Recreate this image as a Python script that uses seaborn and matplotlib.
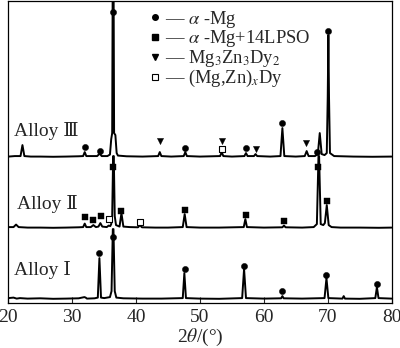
import numpy as np
import pandas as pd
import matplotlib
matplotlib.use("Agg")
import matplotlib.pyplot as plt
from matplotlib.lines import Line2D
import seaborn as sns

# ---------------- data (2theta in degrees, intensity in arbitrary units above each baseline) -------------
alloy1_x = [20, 20.8, 21.3, 21.8, 23, 25, 27, 29, 31.0, 31.9, 32.1, 32.3, 33.5, 34.0, 34.25, 34.5, 35.0,
            35.9, 36.15, 36.35, 36.45, 36.65, 36.9, 38, 41, 44, 47.3, 47.55, 47.8, 50, 53, 56.6, 56.9, 57.2, 60,
            62.7, 62.9, 63.1, 66, 69.5, 69.8, 70.1, 72.3, 72.5, 72.7, 75, 77.45, 77.7, 77.95, 80]
alloy1_y = [1, 1.5, 0.5, 1, 0.5, 0.8, 0.3, 0.5, 0.8, 2, 1.5, 0.5, 0.8, 1.5, 41, 1.5, 1,
            2, 8, 70, 70, 8, 1.5, 0.8, 0.5, 0.5, 1, 26, 1, 0.5, 0.3, 1, 30, 1, 0.5,
            0.8, 3, 0.8, 0.5, 1, 21, 1, 0.5, 3, 0.5, 0.3, 1, 12, 1, 0.5]

alloy2_x = [20, 20.8, 21.2, 21.6, 23, 25, 27, 29, 31.0, 31.7, 31.95, 32.2, 32.9, 33.3, 33.7, 34.1, 34.4,
            34.7, 35.4, 35.7, 35.95, 36.1, 36.25, 36.4, 36.5, 36.65, 36.85, 37.4, 37.7, 38.0, 39, 40.3, 40.6,
            40.9, 43, 45, 47.3, 47.6, 47.9, 50, 53, 56.85, 57.1, 57.35, 60, 62.9, 63.15, 63.4, 66, 67.8,
            68.3, 68.55, 68.65, 68.9, 69.3, 69.55, 69.85, 70.15, 70.6, 72, 75, 78, 80]
alloy2_y = [1, 1, 3.5, 1, 0.5, 0.5, 0.3, 0.5, 0.8, 1, 4.5, 1, 1, 3, 1, 1.5, 5,
            1.5, 1, 2.5, 2, 4, 12, 72, 72, 12, 3, 1.5, 15, 1.5, 1, 0.8, 3,
            0.8, 0.5, 0.5, 1, 14, 1, 0.5, 0.5, 1, 9, 1, 0.5, 0.8, 2.5, 0.8, 0.5, 1,
            4, 72, 72, 4, 3, 5, 23, 3, 1, 0.5, 0.5, 0.3, 0.5]

alloy3_x = [20, 21, 21.9, 22.2, 22.5, 23.5, 25, 27, 29, 31.0, 31.7, 31.95, 32.2, 33.9, 34.3, 34.6, 35.5,
            35.9, 36.1, 36.25, 36.33, 36.47, 36.55, 36.75, 36.95, 37.15, 38.5, 41, 43.45, 43.7, 43.95, 45.5,
            47.45, 47.7, 47.95, 50, 53.15, 53.4, 53.65, 55, 56.95, 57.2, 57.45, 58.45, 58.7, 58.95, 61,
            62.6, 62.9, 63.2, 65, 66.4, 66.7, 67.0, 68.0, 68.45, 68.75, 69.05, 69.5, 69.85, 70.0, 70.1,
            70.2, 70.35, 71, 74, 77, 80]
alloy3_y = [0.5, 1, 1, 12, 1, 0.5, 0.5, 0.3, 0.5, 0.8, 1, 5, 1, 1, 3.5, 1, 1,
            2.5, 18, 24, 175, 175, 24, 22, 4, 1.5, 0.8, 0.5, 1, 5, 1, 0.5,
            1, 5, 1, 0.5, 1, 5, 1, 0.5, 1, 4, 1, 1, 3, 1, 0.5,
            1, 29, 1, 0.5, 1, 6, 1, 1, 3, 24, 3, 2, 4, 60, 122,
            60, 4, 1, 0.5, 0.3, 0.5]

alloy_names = ["Alloy \u2160", "Alloy \u2161", "Alloy \u2162"]

# phase marker annotations (2theta, height on the plot scale)
amg_x = [31.96, 34.3, 36.3, 47.7, 57.2, 62.9, 68.3, 70.1, 34.25, 36.4, 47.6, 56.9, 62.9, 69.8, 77.7]
amg_y = [156, 152, 291, 155, 155, 180, 151, 272, 50, 66, 34, 37, 12, 28, 19]
lpso_x = [31.96, 33.3, 34.45, 36.3, 37.7, 47.6, 57.2, 63.2, 68.5, 69.9]
lpso_y = [86, 83, 87, 136, 92, 93, 88, 82, 136, 102]
mg3_x = [43.7, 53.4, 58.75, 66.6]
mg3_y = [162, 162, 154, 160]
mgzn_x = [35.75, 40.6, 53.4]
mgzn_y = [84, 81, 154]

phase_labels = ["\u2014 $\\alpha$ -Mg", "\u2014 $\\alpha$ -Mg+14LPSO",
                "\u2014 Mg$_3$Zn$_3$Dy$_2$", "\u2014 (Mg,Zn)$_x$Dy"]

x_ticks = [20, 30, 40, 50, 60, 70, 80]

# ---------------- layout / style -------------
baselines = [4, 75, 146]
label_pos = [(20.8, 33), (21.4, 99), (20.8, 172)]

sns.set_style("ticks")
plt.rcParams["font.family"] = ["Liberation Serif", "DejaVu Serif", "Noto Sans CJK SC"]
plt.rcParams["mathtext.fontset"] = "stix"

fig = plt.figure(figsize=(4.0, 3.48), dpi=100)
ax = fig.add_axes([0.021, 0.129, 0.958, 0.868])

traces = [(alloy1_x, alloy1_y), (alloy2_x, alloy2_y), (alloy3_x, alloy3_y)]
for (xs, ys), base in zip(traces, baselines):
    df = pd.DataFrame({"two_theta": xs, "intensity": np.array(ys) + base})
    sns.lineplot(data=df, x="two_theta", y="intensity", color="black", lw=1.4,
                 estimator=None, sort=False, ax=ax)

ms = 20
sns.scatterplot(x=amg_x, y=amg_y, marker="o", s=ms, color="black", edgecolor="black",
                linewidth=0.3, ax=ax, zorder=5)
sns.scatterplot(x=lpso_x, y=lpso_y, marker="s", s=ms, color="black", edgecolor="black",
                linewidth=0.3, ax=ax, zorder=5)
sns.scatterplot(x=mg3_x, y=mg3_y, marker="v", s=ms, color="black", edgecolor="black",
                linewidth=0.3, ax=ax, zorder=5)
sns.scatterplot(x=mgzn_x, y=mgzn_y, marker="s", s=ms, color="white", edgecolor="black",
                linewidth=0.8, ax=ax, zorder=5)

for name, (lx, ly) in zip(alloy_names, label_pos):
    ax.text(lx, ly, name, fontsize=14, va="center", ha="left")

handles = [
    Line2D([], [], ls="none", marker="o", ms=4, mfc="black", mec="black"),
    Line2D([], [], ls="none", marker="s", ms=4, mfc="black", mec="black"),
    Line2D([], [], ls="none", marker="v", ms=4, mfc="black", mec="black"),
    Line2D([], [], ls="none", marker="s", ms=4, mfc="white", mec="black", mew=0.8),
]
ax.legend(handles, phase_labels, loc="upper left", bbox_to_anchor=(0.37, 0.975),
          frameon=False, fontsize=13.3, handlelength=0.5, handletextpad=0.3,
          labelspacing=-0.06, borderpad=0, borderaxespad=0)

ax.set_xlim(20, 80)
ax.set_ylim(0, 302)
ax.set_xticks(x_ticks)
ax.set_xticklabels([str(t) for t in x_ticks])
ax.set_yticks([])
ax.tick_params(axis="x", direction="in", length=4, width=0.8, labelsize=14, pad=4)
ax.set_xlabel("2$\\theta$/(\u00b0)", fontsize=14, labelpad=1)
ax.set_ylabel("")
for sp in ax.spines.values():
    sp.set_visible(True)
    sp.set_linewidth(0.9)
    sp.set_color("black")

fig.savefig("out.png", dpi=100)
